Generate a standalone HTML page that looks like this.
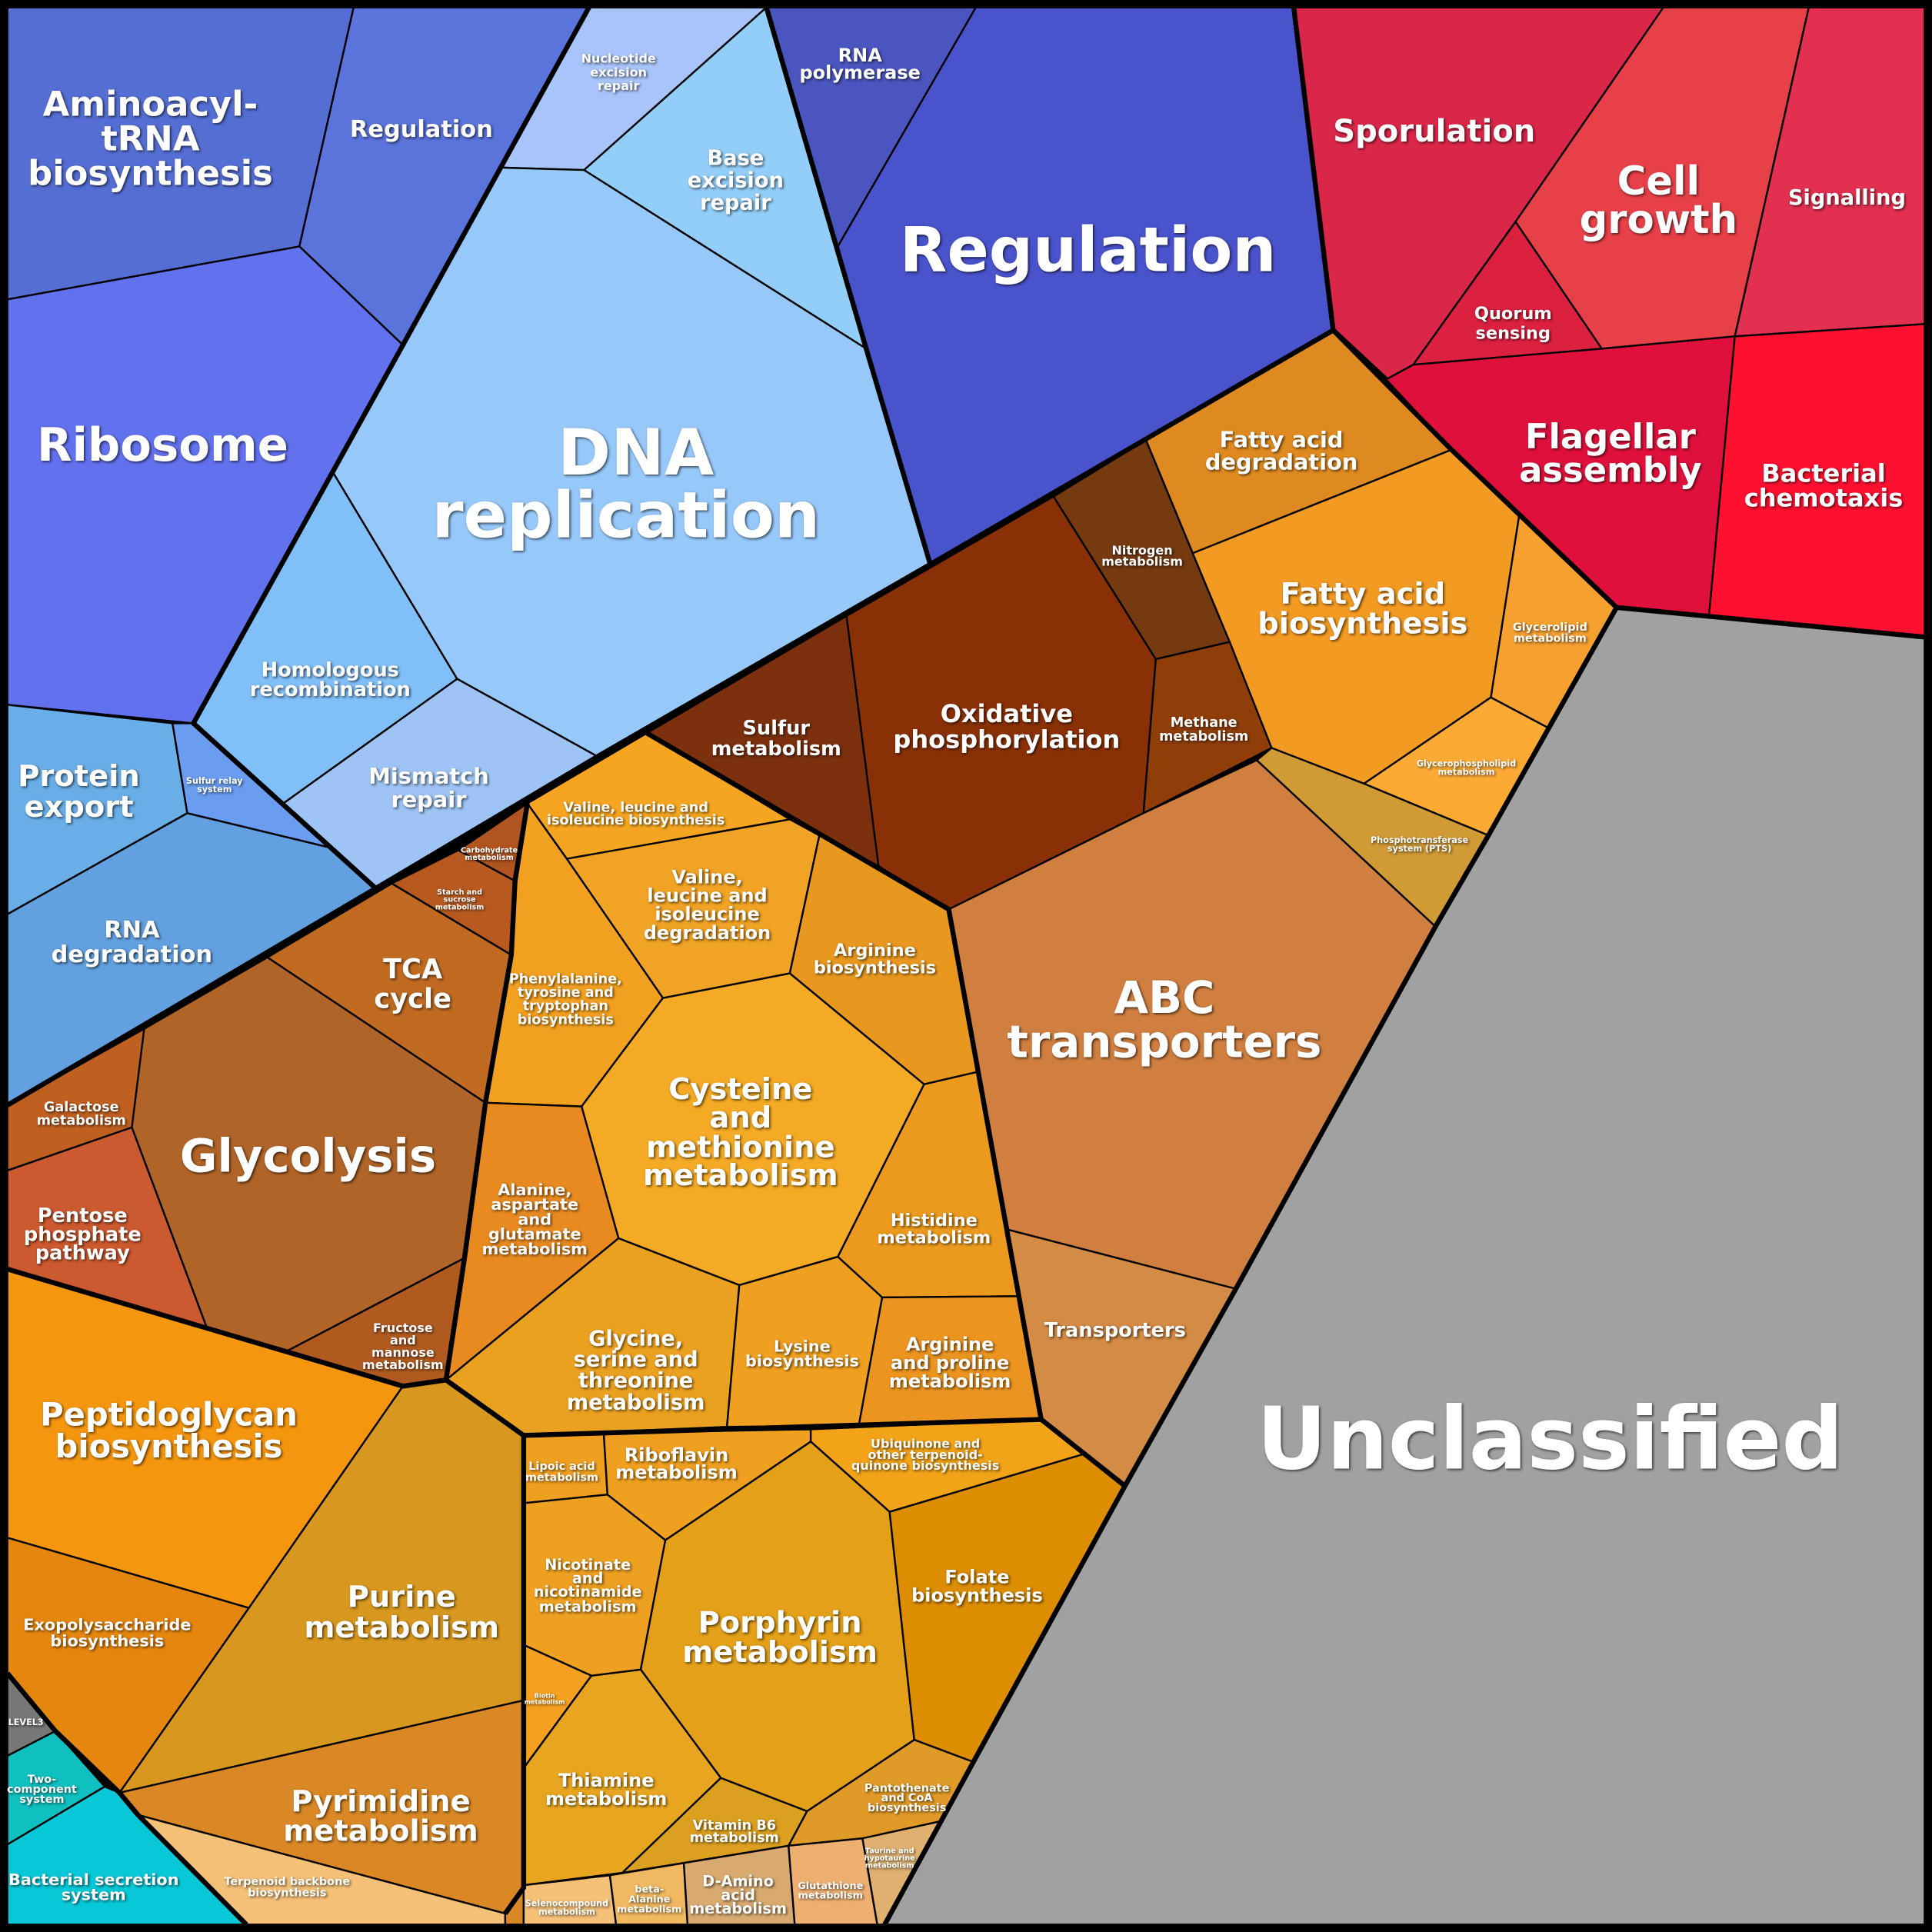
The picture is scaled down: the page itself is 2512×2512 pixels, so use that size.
<!DOCTYPE html>
<html><head><meta charset="utf-8"><style>
html,body{margin:0;padding:0;background:#000}
svg{display:block}
text{font-family:"DejaVu Sans","Liberation Sans",sans-serif;font-weight:bold;fill:#fff;text-anchor:middle}
.t{filter:drop-shadow(1px 1px 1px rgba(0,0,0,.65))}
</style></head><body>
<svg width="2512" height="2512" viewBox="0 0 1568 1568" xmlns="http://www.w3.org/2000/svg">
<rect x="0" y="0" width="1568" height="1568" fill="#000"/>
<g stroke="#000" stroke-width="1.5" stroke-linejoin="round">
<polygon fill="#556ed4" points="6,6 287,6 243,200 6,243"/>
<polygon fill="#5a74dc" points="287,6 478,6 327,280 243,200"/>
<polygon fill="#a8c4fa" points="478,6 622,6 474,138 406,136"/>
<polygon fill="#93cef8" points="622,6 703,283 474,138"/>
<polygon fill="#96c8fa" points="406,136 474,138 703,283 755,458 485,614 371,551 270,383 327,280"/>
<polygon fill="#4b55c0" points="622,6 792,6 680,200"/>
<polygon fill="#4953cc" points="792,6 1050,6 1082,268 755,458 703,283 680,200"/>
<polygon fill="#6271ee" points="6,243 243,200 327,280 270,383 157,587 6,572"/>
<polygon fill="#80bff8" points="270,383 371,551 230,652 157,587"/>
<polygon fill="#9ec4f5" points="371,551 485,614 305,721 230,652"/>
<polygon fill="#6aaee8" points="6,572 140,587 152,660 6,742"/>
<polygon fill="#6a9cf0" points="140,587 157,587 230,652 268,688 152,660"/>
<polygon fill="#62a0e0" points="6,742 152,660 268,688 305,721 6,897"/>
<polygon fill="#da2648" points="1050,6 1350,6 1230,180 1147,296 1125,308 1082,268"/>
<polygon fill="#e84048" points="1350,6 1468,6 1408,273 1300,283 1230,180"/>
<polygon fill="#e43050" points="1468,6 1562,6 1562,263 1408,273"/>
<polygon fill="#dc2040" points="1230,180 1300,283 1147,296"/>
<polygon fill="#e0103c" points="1125,308 1147,296 1300,283 1408,273 1387,500 1312,493 1178,365"/>
<polygon fill="#fe1030" points="1408,273 1562,263 1562,517 1387,500"/>
<polygon fill="#a0a1a3" points="1312,493 1562,517 1562,1562 718,1562 790,1430 913,1206 1003,1046 1165,752 1208,678"/>
<polygon fill="#df8a20" points="930,357 1082,268 1178,365 968,449"/>
<polygon fill="#753a10" points="855,403 930,357 968,449 998,521 938,535"/>
<polygon fill="#f39a22" points="968,449 1178,365 1233,418 1210,566 1107,636 1032,607 998,521"/>
<polygon fill="#f6a030" points="1178,365 1312,493 1257,591 1210,566 1233,418"/>
<polygon fill="#fdaa35" points="1210,566 1257,591 1208,678 1107,636"/>
<polygon fill="#d09a35" points="1032,607 1107,636 1208,678 1165,752 1020,617"/>
<polygon fill="#8f3e08" points="938,535 998,521 1032,607 928,660"/>
<polygon fill="#8a3006" points="687,500 855,403 938,535 928,660 770,738 713,703"/>
<polygon fill="#7d300e" points="525,595 687,500 713,703 641,665"/>
<polygon fill="#d07f40" points="770,738 928,660 1020,617 1165,752 1003,1046 818,998"/>
<polygon fill="#d48b45" points="818,998 1003,1046 913,1206 845,1152"/>
<polygon fill="#f5a520" points="525,595 641,665 460,697 428,652"/>
<polygon fill="#f0a325" points="460,697 641,665 665,678 641,790 538,810"/>
<polygon fill="#e8981f" points="665,678 713,703 770,738 793,870 750,880 641,790"/>
<polygon fill="#f2a020" points="428,652 460,697 538,810 472,898 394,895 415,775 418,715"/>
<polygon fill="#f4aa25" points="538,810 641,790 750,880 680,1020 600,1043 502,1005 472,898"/>
<polygon fill="#e88a20" points="394,895 472,898 502,1005 362,1120 377,1021"/>
<polygon fill="#eb9a1e" points="750,880 793,870 818,998 828,1052 716,1053 680,1020"/>
<polygon fill="#eba120" points="362,1120 502,1005 600,1043 590,1158 425,1165"/>
<polygon fill="#f0a020" points="600,1043 680,1020 716,1053 697,1157 590,1158"/>
<polygon fill="#eb9420" points="716,1053 828,1052 845,1152 697,1157"/>
<polygon fill="#c06a22" points="217,777 318,717 415,775 394,895"/>
<polygon fill="#b85a20" points="318,717 372,690 418,715 415,775"/>
<polygon fill="#b05520" points="372,690 428,652 418,715"/>
<polygon fill="#b06428" points="6,897 117,835 217,777 394,895 377,1021 232,1097 168,1078 107,915"/>
<polygon fill="#c06020" points="6,897 117,835 107,915 6,950"/>
<polygon fill="#cc5a30" points="6,950 107,915 168,1078 6,1030"/>
<polygon fill="#b05a20" points="232,1097 377,1021 362,1120 327,1125"/>
<polygon fill="#f5960f" points="6,1030 168,1078 232,1097 327,1125 202,1305 6,1248"/>
<polygon fill="#e5860e" points="6,1248 202,1305 97,1455 45,1405 6,1358"/>
<polygon fill="#d8981f" points="327,1125 362,1120 425,1165 425,1380 97,1455 202,1305"/>
<polygon fill="#d98825" points="97,1455 425,1380 425,1562 410,1562 410,1553 112,1473"/>
<polygon fill="#f5c078" points="112,1473 410,1553 410,1562 200,1562"/>
<polygon fill="#777777" points="6,1358 45,1405 6,1425"/>
<polygon fill="#10c0c0" points="6,1425 45,1405 85,1450 6,1497"/>
<polygon fill="#08c8d8" points="6,1497 85,1450 97,1455 112,1473 200,1562 6,1562"/>
<polygon fill="#f0a020" points="425,1165 490,1163 493,1213 425,1220"/>
<polygon fill="#f0a020" points="490,1163 658,1160 658,1170 540,1250 493,1213"/>
<polygon fill="#f2a318" points="658,1160 845,1152 880,1180 722,1227 658,1170"/>
<polygon fill="#eea020" points="425,1220 493,1213 540,1250 520,1355 480,1360 425,1335"/>
<polygon fill="#e4a018" points="540,1250 658,1170 722,1227 742,1412 655,1470 585,1443 520,1355"/>
<polygon fill="#dc8d00" points="722,1227 880,1180 913,1206 790,1430 742,1412"/>
<polygon fill="#f5a020" points="425,1335 480,1360 425,1435"/>
<polygon fill="#e8a520" points="425,1435 480,1360 520,1355 585,1443 505,1520 425,1530"/>
<polygon fill="#dca020" points="505,1520 585,1443 655,1470 640,1498"/>
<polygon fill="#e09a28" points="655,1470 742,1412 790,1430 764,1478 700,1492 640,1498"/>
<polygon fill="#f5c078" points="425,1530 495,1522 500,1562 425,1562"/>
<polygon fill="#f0b860" points="495,1522 555,1512 558,1562 500,1562"/>
<polygon fill="#d8aa70" points="555,1512 640,1498 645,1562 558,1562"/>
<polygon fill="#eeb070" points="640,1498 700,1492 712,1562 645,1562"/>
<polygon fill="#e0b070" points="700,1492 764,1478 718,1562 712,1562"/>
</g>
<g fill="none" stroke="#000" stroke-width="4" stroke-linejoin="round">
<polyline points="6,897 305,721 485,614 755,458 1082,268"/>
<polyline points="1050,6 1082,268 1178,365 1312,493 1562,517"/>
<polyline points="1312,493 1208,678 1165,752 1003,1046 913,1206 790,1430 718,1562"/>
<polyline points="478,6 327,280 270,383 157,587 305,721"/>
<polyline points="622,6 703,283 755,458"/>
<polyline points="525,595 770,738 845,1152 425,1165 362,1120 377,1021 394,895 415,775 418,715 428,652"/>
<polyline points="425,1165 425,1532 410,1553"/>
<polyline points="845,1152 913,1206"/>
<polyline points="6,1030 327,1125 362,1120"/>
<polyline points="6,1358 45,1405 97,1455 112,1473 200,1562"/>
<polyline points="1125,308 1082,268"/>
<rect x="3" y="3" width="1562" height="1562"/>
</g>
<g class="t">
<text font-size="28" x="122" y="94">Aminoacyl-</text>
<text font-size="28" x="122" y="122">tRNA</text>
<text font-size="28" x="122" y="150">biosynthesis</text>
<text font-size="19" x="342" y="111">Regulation</text>
<text font-size="10" x="502" y="51">Nucleotide</text>
<text font-size="10" x="502" y="62">excision</text>
<text font-size="10" x="502" y="73">repair</text>
<text font-size="17" x="597" y="134">Base</text>
<text font-size="17" x="597" y="152">excision</text>
<text font-size="17" x="597" y="170">repair</text>
<text font-size="15" x="698" y="50">RNA</text>
<text font-size="15" x="698" y="64">polymerase</text>
<text font-size="50" x="883" y="220">Regulation</text>
<text font-size="52" x="516" y="385">DNA</text>
<text font-size="52" x="508" y="436">replication</text>
<text font-size="37" x="132" y="374">Ribosome</text>
<text font-size="16" x="268" y="549">Homologous</text>
<text font-size="16" x="268" y="565">recombination</text>
<text font-size="18" x="348" y="636">Mismatch</text>
<text font-size="18" x="348" y="655">repair</text>
<text font-size="24" x="64" y="638">Protein</text>
<text font-size="24" x="64" y="663">export</text>
<text font-size="7" x="174" y="636">Sulfur relay</text>
<text font-size="7" x="174" y="643">system</text>
<text font-size="19" x="107" y="761">RNA</text>
<text font-size="19" x="107" y="781">degradation</text>
<text font-size="25" x="1164" y="115">Sporulation</text>
<text font-size="32" x="1346" y="158">Cell</text>
<text font-size="32" x="1346" y="189">growth</text>
<text font-size="17" x="1499" y="166">Signalling</text>
<text font-size="14" x="1228" y="259">Quorum</text>
<text font-size="14" x="1228" y="275">sensing</text>
<text font-size="28" x="1307" y="364">Flagellar</text>
<text font-size="28" x="1307" y="391">assembly</text>
<text font-size="20" x="1480" y="391">Bacterial</text>
<text font-size="20" x="1480" y="411">chemotaxis</text>
<text font-size="70" x="1258" y="1192">Unclassified</text>
<text font-size="18" x="1040" y="363">Fatty acid</text>
<text font-size="18" x="1040" y="381">degradation</text>
<text font-size="10" x="927" y="450">Nitrogen</text>
<text font-size="10" x="927" y="459">metabolism</text>
<text font-size="24" x="1106" y="490">Fatty acid</text>
<text font-size="24" x="1106" y="514">biosynthesis</text>
<text font-size="9" x="1258" y="512">Glycerolipid</text>
<text font-size="9" x="1258" y="521">metabolism</text>
<text font-size="7" x="1190" y="622">Glycerophospholipid</text>
<text font-size="7" x="1190" y="629">metabolism</text>
<text font-size="7" x="1152" y="684">Phosphotransferase</text>
<text font-size="7" x="1152" y="691">system (PTS)</text>
<text font-size="11" x="977" y="590">Methane</text>
<text font-size="11" x="977" y="601">metabolism</text>
<text font-size="20" x="817" y="586">Oxidative</text>
<text font-size="20" x="817" y="607">phosphorylation</text>
<text font-size="16" x="630" y="596">Sulfur</text>
<text font-size="16" x="630" y="613">metabolism</text>
<text font-size="36" x="945" y="822">ABC</text>
<text font-size="36" x="945" y="858">transporters</text>
<text font-size="16" x="905" y="1085">Transporters</text>
<text font-size="11" x="516" y="659">Valine, leucine and</text>
<text font-size="11" x="516" y="669">isoleucine biosynthesis</text>
<text font-size="15" x="574" y="717">Valine,</text>
<text font-size="15" x="574" y="732">leucine and</text>
<text font-size="15" x="574" y="747">isoleucine</text>
<text font-size="15" x="574" y="762">degradation</text>
<text font-size="14" x="710" y="776">Arginine</text>
<text font-size="14" x="710" y="790">biosynthesis</text>
<text font-size="11" x="459" y="798">Phenylalanine,</text>
<text font-size="11" x="459" y="809">tyrosine and</text>
<text font-size="11" x="459" y="820">tryptophan</text>
<text font-size="11" x="459" y="831">biosynthesis</text>
<text font-size="24" x="601" y="892">Cysteine</text>
<text font-size="24" x="601" y="915">and</text>
<text font-size="24" x="601" y="939">methionine</text>
<text font-size="24" x="601" y="962">metabolism</text>
<text font-size="13" x="434" y="970">Alanine,</text>
<text font-size="13" x="434" y="982">aspartate</text>
<text font-size="13" x="434" y="994">and</text>
<text font-size="13" x="434" y="1006">glutamate</text>
<text font-size="13" x="434" y="1018">metabolism</text>
<text font-size="14" x="758" y="995">Histidine</text>
<text font-size="14" x="758" y="1009">metabolism</text>
<text font-size="17" x="516" y="1092">Glycine,</text>
<text font-size="17" x="516" y="1109">serine and</text>
<text font-size="17" x="516" y="1126">threonine</text>
<text font-size="17" x="516" y="1144">metabolism</text>
<text font-size="13" x="651" y="1097">Lysine</text>
<text font-size="13" x="651" y="1109">biosynthesis</text>
<text font-size="15" x="771" y="1096">Arginine</text>
<text font-size="15" x="771" y="1111">and proline</text>
<text font-size="15" x="771" y="1126">metabolism</text>
<text font-size="22" x="335" y="794">TCA</text>
<text font-size="22" x="335" y="818">cycle</text>
<text font-size="6" x="397" y="692">Carbohydrate</text>
<text font-size="6" x="397" y="698">metabolism</text>
<text font-size="6" x="373" y="726">Starch and</text>
<text font-size="6" x="373" y="732">sucrose</text>
<text font-size="6" x="373" y="738">metabolism</text>
<text font-size="37" x="250" y="951">Glycolysis</text>
<text font-size="11" x="66" y="902">Galactose</text>
<text font-size="11" x="66" y="913">metabolism</text>
<text font-size="16" x="67" y="992">Pentose</text>
<text font-size="16" x="67" y="1007">phosphate</text>
<text font-size="16" x="67" y="1022">pathway</text>
<text font-size="10" x="327" y="1081">Fructose</text>
<text font-size="10" x="327" y="1091">and</text>
<text font-size="10" x="327" y="1101">mannose</text>
<text font-size="10" x="327" y="1111">metabolism</text>
<text font-size="26" x="137" y="1157">Peptidoglycan</text>
<text font-size="26" x="137" y="1183">biosynthesis</text>
<text font-size="13" x="87" y="1323">Exopolysaccharide</text>
<text font-size="13" x="87" y="1336">biosynthesis</text>
<text font-size="24" x="326" y="1304">Purine</text>
<text font-size="24" x="326" y="1329">metabolism</text>
<text font-size="24" x="309" y="1470">Pyrimidine</text>
<text font-size="24" x="309" y="1494">metabolism</text>
<text font-size="9" x="233" y="1530">Terpenoid backbone</text>
<text font-size="9" x="233" y="1539">biosynthesis</text>
<text font-size="7" x="21" y="1400">LEVEL3</text>
<text font-size="9" x="34" y="1447">Two-</text>
<text font-size="9" x="34" y="1455">component</text>
<text font-size="9" x="34" y="1463">system</text>
<text font-size="13" x="76" y="1530">Bacterial secretion</text>
<text font-size="13" x="76" y="1542">system</text>
<text font-size="9" x="456" y="1193">Lipoic acid</text>
<text font-size="9" x="456" y="1202">metabolism</text>
<text font-size="15" x="549" y="1186">Riboflavin</text>
<text font-size="15" x="549" y="1200">metabolism</text>
<text font-size="10" x="751" y="1175">Ubiquinone and</text>
<text font-size="10" x="751" y="1184">other terpenoid-</text>
<text font-size="10" x="751" y="1193">quinone biosynthesis</text>
<text font-size="12" x="477" y="1274">Nicotinate</text>
<text font-size="12" x="477" y="1285">and</text>
<text font-size="12" x="477" y="1296">nicotinamide</text>
<text font-size="12" x="477" y="1308">metabolism</text>
<text font-size="24" x="633" y="1325">Porphyrin</text>
<text font-size="24" x="633" y="1349">metabolism</text>
<text font-size="15" x="793" y="1285">Folate</text>
<text font-size="15" x="793" y="1300">biosynthesis</text>
<text font-size="5" x="442" y="1378">Biotin</text>
<text font-size="5" x="442" y="1383">metabolism</text>
<text font-size="15" x="492" y="1450">Thiamine</text>
<text font-size="15" x="492" y="1465">metabolism</text>
<text font-size="11" x="596" y="1485">Vitamin B6</text>
<text font-size="11" x="596" y="1495">metabolism</text>
<text font-size="9" x="736" y="1454">Pantothenate</text>
<text font-size="9" x="736" y="1462">and CoA</text>
<text font-size="9" x="736" y="1470">biosynthesis</text>
<text font-size="7" x="460" y="1547">Selenocompound</text>
<text font-size="7" x="460" y="1554">metabolism</text>
<text font-size="8" x="527" y="1536">beta-</text>
<text font-size="8" x="527" y="1544">Alanine</text>
<text font-size="8" x="527" y="1552">metabolism</text>
<text font-size="12" x="599" y="1531">D-Amino</text>
<text font-size="12" x="599" y="1542">acid</text>
<text font-size="12" x="599" y="1553">metabolism</text>
<text font-size="8" x="674" y="1533">Glutathione</text>
<text font-size="8" x="674" y="1541">metabolism</text>
<text font-size="6" x="722" y="1504">Taurine and</text>
<text font-size="6" x="722" y="1510">hypotaurine</text>
<text font-size="6" x="722" y="1516">metabolism</text>
</g>
</svg>
</body></html>
